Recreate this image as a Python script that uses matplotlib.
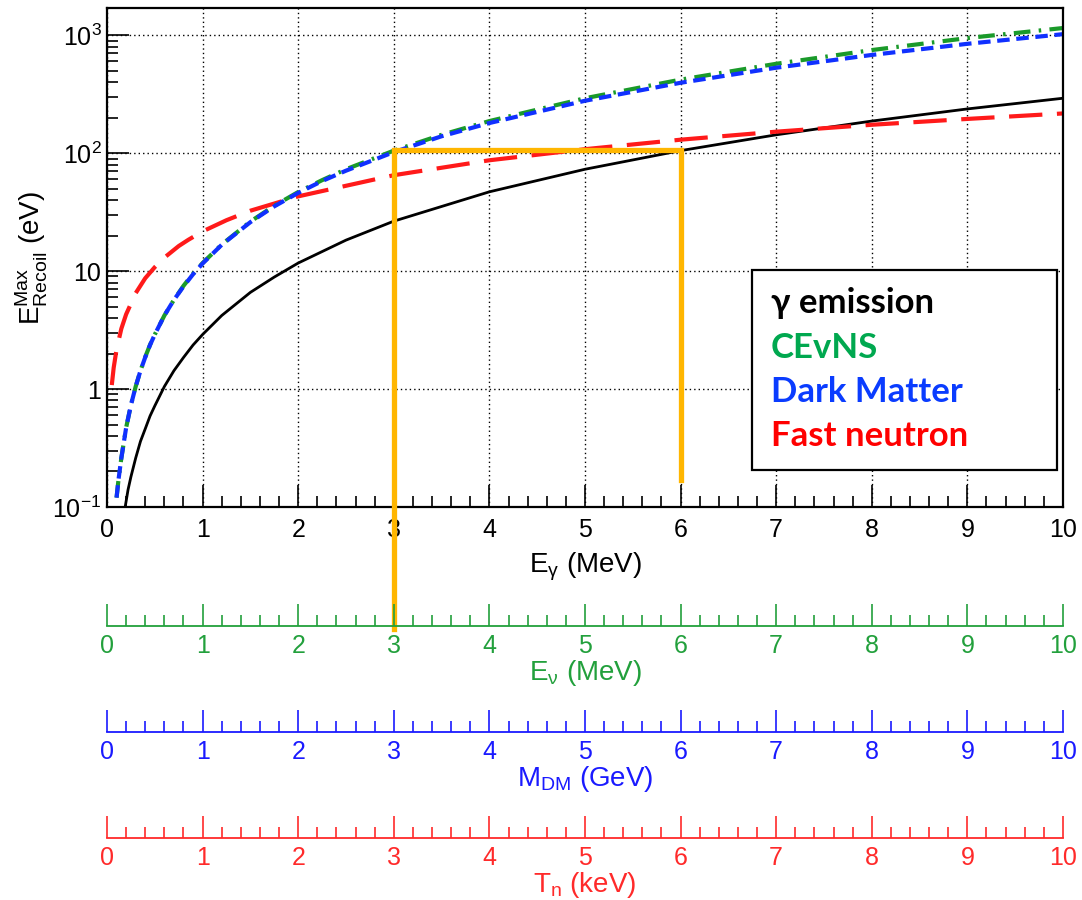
'''
Max recoil energy vs source energy, with stacked extra x axes
'''
import matplotlib
matplotlib.use("Agg")
import matplotlib.pyplot as plt
from matplotlib.ticker import MultipleLocator, FixedLocator, FixedFormatter, LogLocator, NullFormatter
from matplotlib.patches import Rectangle

plt.rcParams['font.family'] = ['Liberation Sans', 'DejaVu Sans']
plt.rcParams['mathtext.fontset'] = 'custom'
plt.rcParams['mathtext.rm'] = 'Liberation Sans'

# gamma emission (black)
x_gamma = [0.19, 0.22, 0.25, 0.3, 0.35, 0.4, 0.45, 0.5, 0.6, 0.7, 0.8, 0.9, 1, 1.2, 1.5, 1.75, 2,
           2.5, 3, 4, 5, 6, 7, 8, 9, 10]
e_gamma = [0.1, 0.14, 0.18, 0.26, 0.36, 0.46, 0.59, 0.72, 1.05, 1.43, 1.85, 2.36, 2.9, 4.2, 6.6,
           8.9, 11.7, 18.3, 26.5, 47, 73, 105, 143, 187, 237, 292]

# CEvNS (green) and dark matter (blue)
x_nu = [0.1, 0.12, 0.15, 0.2, 0.25, 0.3, 0.35, 0.4, 0.45, 0.5, 0.6, 0.7, 0.8, 0.9, 1, 1.2, 1.5,
        1.75, 2, 2.25, 2.5, 3, 3.5, 4, 5, 6, 7, 8, 9, 10]
e_cevns = [0.12, 0.17, 0.26, 0.47, 0.73, 1.05, 1.43, 1.87, 2.37, 2.9, 4.2, 5.7, 7.5, 9.5, 11.7,
           16.8, 26.3, 35.8, 46.8, 59, 73, 105, 143, 187, 292, 420, 572, 748, 945, 1150]
e_dm = [0.12, 0.17, 0.26, 0.47, 0.73, 1.05, 1.43, 1.86, 2.36, 2.9, 4.2, 5.7, 7.4, 9.4, 11.6,
        16.7, 26, 35.4, 46, 58, 71, 102, 139, 180, 278, 395, 530, 680, 845, 1020]

# fast neutron (red)
x_n = [0.05, 0.07, 0.1, 0.15, 0.2, 0.3, 0.4, 0.5, 0.6, 0.75, 0.85, 1, 1.25, 1.5, 2, 3, 4, 5, 6,
       7, 8, 9, 10]
e_n = [1.08, 1.52, 2.17, 3.25, 4.3, 6.5, 8.7, 10.8, 13, 16.3, 18.4, 21.7, 27, 32.5, 43, 65, 87,
       108, 130, 152, 174, 195, 217]

# highlighted path (yellow)
hl_x = [3, 3, 6, 6]
hl_y = [0.0093, 106, 106, 0.17]

ytick_vals = [0.1, 1, 10, 100, 1000]
ytick_labels = [r'$\mathregular{10^{-1}}$', '1', '10', r'$\mathregular{10^{2}}$', r'$\mathregular{10^{3}}$']

legend_items = [(u'\u03b3 emission', 'black'), ('CEvNS', '#00a84f'),
                ('Dark Matter', '#0a3cff'), ('Fast neutron', '#ff0000')]

extra_axes = [
    (0.3044, '#22a03c', r'E$_\mathregular{\nu}$ (MeV)'),
    (0.1867, '#1a1aff', r'M$_\mathregular{DM}$ (GeV)'),
    (0.0689, '#ff2a2a', r'T$_\mathregular{n}$ (keV)'),
]

fig = plt.figure(figsize=(10.82, 9), dpi=100)
ax = fig.add_axes([0.0989, 0.4367, 0.8835, 0.5544])

ax.plot(x_gamma, e_gamma, color='black', lw=2)
ax.plot(x_n, e_n, color='#ff1a1a', lw=3, dashes=(8, 3.5))
ax.plot(x_nu, e_cevns, color='#1a9a2a', lw=3, dashes=(4, 2, 0.6, 2))
ax.plot(x_nu, e_dm, color='#1030ff', lw=3, dashes=(3, 1.6))
ax.plot(hl_x, hl_y, color='#ffb600', lw=3.8, clip_on=False, zorder=5,
        solid_joinstyle='miter')

ax.set_yscale('log')
ax.set_xlim(0, 10)
ax.set_ylim(0.1, 1700)
ax.yaxis.set_major_locator(FixedLocator(ytick_vals))
ax.yaxis.set_major_formatter(FixedFormatter(ytick_labels))
ax.yaxis.set_minor_locator(LogLocator(base=10, subs=range(2, 10), numticks=20))
ax.yaxis.set_minor_formatter(NullFormatter())
ax.xaxis.set_major_locator(MultipleLocator(1))
ax.xaxis.set_minor_locator(MultipleLocator(0.2))

ax.tick_params(which='both', direction='in', width=1.2, labelsize=18, pad=8)
ax.tick_params(which='major', length=16)
ax.tick_params(which='minor', length=8)
ax.tick_params(axis='y', which='major', pad=4)
for s in ax.spines.values():
    s.set_linewidth(1.6)

ax.grid(True, which='major', color='black', linestyle=(0, (1, 2.2)), lw=1)
ax.set_xlabel(r'E$_\mathregular{\gamma}$ (MeV)', fontsize=20, labelpad=6)
ax.set_ylabel(r'E$^\mathregular{Max}_\mathregular{Recoil}$ (eV)', fontsize=20, labelpad=2)

# text legend box
fig.patches.append(Rectangle((752 / 1082, 1 - 470 / 900), 305 / 1082, 200 / 900,
                             transform=fig.transFigure, facecolor='white',
                             edgecolor='black', lw=1.6, zorder=6))
for i, (label, c) in enumerate(legend_items):
    y = 1 - (303 + 44.5 * i) / 900
    fig.text(771 / 1082, y, label, color=c, fontsize=25, fontweight='bold',
             family=['Lato', 'DejaVu Sans'], va='center', ha='left', zorder=7)

# extra x axes below
for ypos, c, title in extra_axes:
    ex = fig.add_axes([0.0989, ypos, 0.8835, 0.0001])
    ex.set_xlim(0, 10)
    ex.xaxis.set_major_locator(MultipleLocator(1))
    ex.xaxis.set_minor_locator(MultipleLocator(0.2))
    ex.yaxis.set_visible(False)
    for k in ['left', 'right', 'top']:
        ex.spines[k].set_visible(False)
    ex.spines['bottom'].set_color(c)
    ex.spines['bottom'].set_linewidth(1.3)
    ex.patch.set_visible(False)
    ex.tick_params(which='both', direction='in', color=c, labelcolor=c,
                   width=1.2, labelsize=18, pad=6)
    ex.tick_params(which='major', length=16)
    ex.tick_params(which='minor', length=8)
    ex.set_xlabel(title, color=c, fontsize=20, labelpad=0)

fig.savefig('out.png', dpi=100)
